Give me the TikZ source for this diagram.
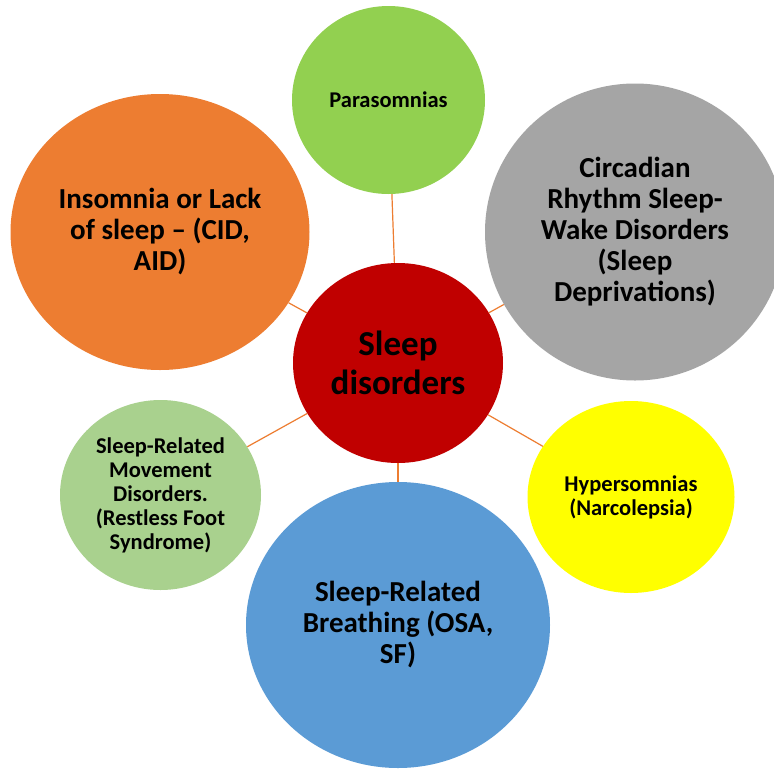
\documentclass[tikz,border=0pt]{standalone}
\usepackage{fontspec}
\setmainfont{Carlito}
\definecolor{insomniaorange}{RGB}{237,125,49}
\definecolor{paragreen}{RGB}{146,208,80}
\definecolor{circgray}{RGB}{165,165,165}
\definecolor{hyperyellow}{RGB}{255,255,0}
\definecolor{breathblue}{RGB}{91,155,213}
\definecolor{movegreen}{RGB}{169,209,142}
\definecolor{corered}{RGB}{192,0,0}
\usetikzlibrary{shapes.geometric}

\tikzset{
  bubble/.style={ellipse, inner sep=0pt, align=center, text=black},
  coretext/.style={font=\fontsize{35}{39}\selectfont\bfseries},
  bigtext/.style={font=\fontsize{29}{31}\selectfont\bfseries},
  smalltext/.style={font=\fontsize{22.5}{24}\selectfont\bfseries},
  link/.style={draw=insomniaorange, line width=1.2pt}
}

\begin{document}
\begin{tikzpicture}[x=1pt,y=-1pt]
            \clip (0,0) rectangle (774,769);
            \fill[white] (0,0) rectangle (774,769);
            % centre and the six groups
            \node[bubble, coretext, fill=corered, minimum width=210pt, minimum height=200pt] (core) at (398,363) {Sleep\\disorders};
            \node[bubble, smalltext, fill=paragreen, minimum width=193pt, minimum height=188pt] (para) at (388.5,100) {Parasomnias};
            \node[bubble, bigtext, fill=insomniaorange, minimum width=299pt, minimum height=276pt] (insomnia) at (160,232) {Insomnia or Lack\\of sleep – (CID,\\AID)};
            \node[bubble, bigtext, fill=circgray, minimum width=300pt, minimum height=297pt] (circadian) at (635,232) {Circadian\\Rhythm Sleep-\\Wake Disorders\\(Sleep\\Deprivations)};
            \node[bubble, smalltext, fill=hyperyellow, minimum width=207pt, minimum height=192pt] (hyper) at (631,497) {Hypersomnias\\(Narcolepsia)};
            \node[bubble, bigtext, fill=breathblue, minimum width=304pt, minimum height=286pt] (breathing) at (398,625) {Sleep-Related\\Breathing (OSA,\\SF)};
            \node[bubble, smalltext, fill=movegreen, minimum width=201pt, minimum height=190pt] (movement) at (160.5,495) {Sleep-Related\\Movement\\Disorders.\\(Restless Foot\\Syndrome)};
            % spokes
            \foreach \leaf in {para,insomnia,circadian,hyper,breathing,movement}
                \draw[link] (core) -- (\leaf);
        \end{tikzpicture}
\end{document}
